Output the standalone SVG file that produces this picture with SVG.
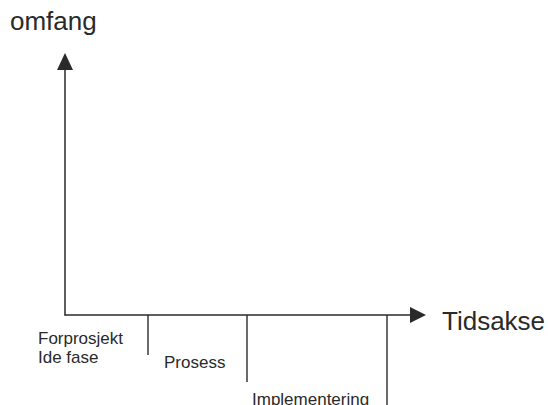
<svg xmlns="http://www.w3.org/2000/svg" width="548" height="405" viewBox="0 0 548 405">
<style>
.ax{stroke:#2a2a2a;stroke-width:1.5;fill:none}
.tk{stroke:#2a2a2a;stroke-width:1.4}
.big{font-family:"Liberation Sans",Arial,sans-serif;font-size:26px;fill:#2a2a2a}
.sm{font-family:"Liberation Sans",Arial,sans-serif;font-size:17px;fill:#2a2a2a}
.ah{fill:#2a2a2a}
</style>
<rect width="548" height="405" fill="#fff"/>
<g id="connectors">
<line class="ax" x1="65" y1="315.5" x2="65" y2="68"/>
<polygon class="ah" points="65,53 57,70 73,70"/>
<line class="ax" x1="64.5" y1="315" x2="412" y2="315"/>
<polygon class="ah" points="426,315 410,307 410,323"/>
<line class="tk" x1="148" y1="315" x2="148" y2="355"/>
<line class="tk" x1="247" y1="315" x2="247" y2="382"/>
<line class="tk" x1="387" y1="315" x2="387" y2="405"/>
</g>
<g id="y-label"><text class="big" x="10" y="30">omfang</text></g>
<g id="x-label"><text class="big" x="442" y="330">Tidsakse</text></g>
<g id="phase-forprosjekt"><text class="sm" x="38" y="344">Forprosjekt</text><text class="sm" x="38" y="363">Ide fase</text></g>
<g id="phase-prosess"><text class="sm" x="164" y="368">Prosess</text></g>
<g id="phase-implementering"><text class="sm" x="252" y="405">Implementering</text></g>
</svg>
